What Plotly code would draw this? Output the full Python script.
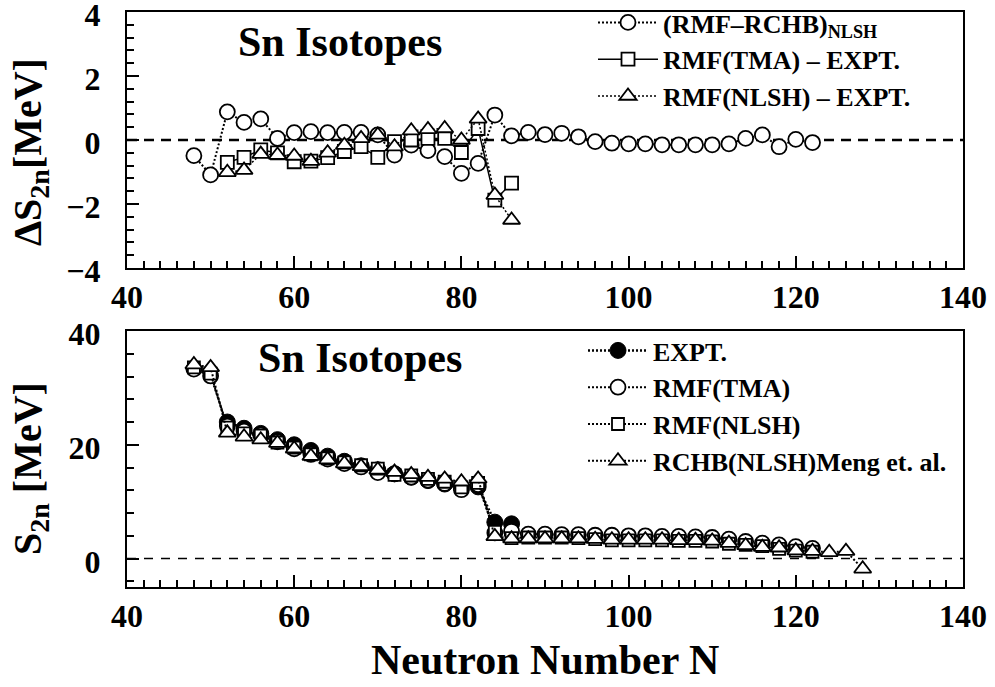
import plotly.graph_objects as go

# ---------------------------------------------------------------------------
# Data: Sn isotopes, two-neutron separation energies (MeV)
# ---------------------------------------------------------------------------
n_rmf = list(range(48, 124, 2))    # RMF calculations, N = 48 ... 122
n_rchb = list(range(48, 130, 2))   # RCHB (NLSH), N = 48 ... 128
n_expt = list(range(52, 88, 2))    # measured values, N = 52 ... 86

# Upper panel: differences
d_rmf_rchb = [-0.49, -1.09, 0.88, 0.55, 0.66, 0.05, 0.23, 0.26, 0.23, 0.24,
              0.24, 0.16, -0.47, -0.16, -0.33, -0.52, -1.04, -0.73, 0.78, 0.13,
              0.24, 0.17, 0.21, 0.10, -0.05, -0.10, -0.12, -0.12, -0.15, -0.15,
              -0.15, -0.15, -0.12, 0.05, 0.16, -0.21, 0.02, -0.08]
d_tma_expt = [-0.70, -0.54, -0.31, -0.40, -0.68, -0.66, -0.55, -0.36, -0.21,
              -0.54, -0.05, 0.00, 0.05, 0.05, -0.39, 0.36, -1.88, -1.35]
d_nlsh_expt = [-1.01, -0.94, -0.44, -0.47, -0.50, -0.66, -0.40, -0.16, 0.05,
               0.16, -0.21, 0.29, 0.33, 0.36, 0.00, 0.66, -1.72, -2.50]

# Lower panel: S2n
s2n_expt = [24.0, 22.9, 22.0, 20.9, 20.0, 19.0, 18.0, 17.1, 16.3, 15.6,
            14.9, 14.3, 13.7, 13.1, 12.5, 12.6, 6.4, 6.1]
s2n_tma = [33.3, 32.1, 23.3, 22.4, 21.7, 20.5, 19.3, 18.3, 17.5, 16.7,
           16.1, 15.1, 14.9, 14.3, 13.8, 13.2, 12.1, 13.0, 4.5, 4.8,
           4.3, 4.3, 4.2, 4.2, 4.1, 4.1, 4.0, 4.0, 3.9, 3.9,
           3.8, 3.7, 3.4, 3.0, 2.7, 2.4, 2.1, 1.8]
s2n_nlsh = [33.6, 32.5, 23.0, 22.0, 21.6, 20.4, 19.5, 18.3, 17.6, 16.9,
            16.4, 15.8, 14.7, 14.6, 14.0, 13.5, 12.5, 13.3, 4.7, 3.6,
            3.7, 3.7, 3.7, 3.6, 3.4, 3.2, 3.2, 3.2, 3.2, 3.1,
            3.1, 3.0, 2.6, 2.4, 2.2, 1.7, 1.4, 1.2]
s2n_rchb = [34.1, 33.6, 22.1, 21.4, 20.9, 20.3, 19.3, 18.0, 17.4, 16.7,
            16.2, 15.6, 15.2, 14.8, 14.3, 14.0, 13.5, 14.0, 3.9, 3.5,
            3.5, 3.5, 3.5, 3.5, 3.4, 3.3, 3.3, 3.3, 3.3, 3.2,
            3.2, 3.1, 2.7, 2.3, 2.0, 1.9, 1.4, 1.3, 1.1, 1.3, -1.8]

x_ticks = [40, 60, 80, 100, 120, 140]

# ---------------------------------------------------------------------------
# Styling
# ---------------------------------------------------------------------------
SERIF = "Liberation Serif, Times New Roman, serif"
W, H = 995, 687


def bold(size):
    return dict(family=SERIF, size=size, color="black", weight="bold")


def frame_axis(**kw):
    ax = dict(showline=True, linecolor="black", linewidth=2, mirror=True,
              ticks="inside", ticklen=12, tickwidth=2, tickcolor="black",
              showgrid=False, zeroline=False, tickfont=bold(32),
              automargin=False, ticklabeloverflow="allow")
    ax.update(kw)
    return ax


def minor(dtick, tick0=0):
    return dict(ticks="inside", ticklen=7, tickwidth=1.5, tickcolor="black",
                dtick=dtick, tick0=tick0, showgrid=False)


DOT = "2px,2px"


def open_marker(symbol, size):
    return dict(symbol=symbol, size=size, color="white",
                line=dict(color="black", width=1.8))


fig = go.Figure()

# Upper panel
fig.add_trace(go.Scatter(
    x=n_rmf, y=d_rmf_rchb, mode="lines+markers",
    name="(RMF\u2013RCHB)<sub>NLSH</sub>",
    line=dict(color="black", width=2, dash=DOT),
    marker=open_marker("circle", 15),
    xaxis="x", yaxis="y", legend="legend"))
fig.add_trace(go.Scatter(
    x=n_expt, y=d_tma_expt, mode="lines+markers",
    name="RMF(TMA) \u2013 EXPT.",
    line=dict(color="black", width=1.5),
    marker=open_marker("square", 13),
    xaxis="x", yaxis="y", legend="legend"))
fig.add_trace(go.Scatter(
    x=n_expt, y=d_nlsh_expt, mode="lines+markers",
    name="RMF(NLSH) \u2013 EXPT.",
    line=dict(color="black", width=1.5, dash=DOT),
    marker=open_marker("triangle-up", 15),
    xaxis="x", yaxis="y", legend="legend"))

# Lower panel
fig.add_trace(go.Scatter(
    x=n_expt, y=s2n_expt, mode="lines+markers", name="EXPT.",
    line=dict(color="black", width=2.5, dash=DOT),
    marker=dict(symbol="circle", size=16, color="black",
                line=dict(color="black", width=1)),
    xaxis="x2", yaxis="y2", legend="legend2"))
fig.add_trace(go.Scatter(
    x=n_rmf, y=s2n_tma, mode="lines+markers", name="RMF(TMA)",
    line=dict(color="black", width=2, dash=DOT),
    marker=open_marker("circle", 15),
    xaxis="x2", yaxis="y2", legend="legend2"))
fig.add_trace(go.Scatter(
    x=n_rmf, y=s2n_nlsh, mode="lines+markers", name="RMF(NLSH)",
    line=dict(color="black", width=2, dash=DOT),
    marker=open_marker("square", 12),
    xaxis="x2", yaxis="y2", legend="legend2"))
fig.add_trace(go.Scatter(
    x=n_rchb, y=s2n_rchb, mode="lines+markers",
    name="RCHB(NLSH)Meng et. al.",
    line=dict(color="black", width=2, dash=DOT),
    marker=open_marker("triangle-up", 15),
    xaxis="x2", yaxis="y2", legend="legend2"))

# Plot-area geometry in pixels (left, right, top, bottom)
L, R = 127, 963
TOP1, BOT1 = 12, 268
TOP2, BOT2 = 331, 587

xdom = [L / W, R / W]
fig.update_layout(
    width=W, height=H,
    margin=dict(l=0, r=0, t=0, b=0, pad=0, autoexpand=False),
    paper_bgcolor="white", plot_bgcolor="white",
    font=bold(26),
    showlegend=True,
    xaxis=frame_axis(domain=xdom, range=[40, 140], tickvals=x_ticks,
                     minor=minor(2), anchor="y", ticklabelstandoff=0),
    yaxis=frame_axis(domain=[1 - BOT1 / H, 1 - TOP1 / H], range=[-4, 4],
                     tick0=0, dtick=2, minor=minor(0.4), anchor="x",
                     ticklabelstandoff=18, ticklabelshift=3),
    xaxis2=frame_axis(domain=xdom, range=[40, 140], tickvals=x_ticks,
                      minor=minor(2), anchor="y2", ticklabelstandoff=0),
    yaxis2=frame_axis(domain=[1 - BOT2 / H, 1 - TOP2 / H], range=[-5, 40],
                      tick0=0, dtick=20, minor=minor(4), anchor="x2",
                      ticklabelstandoff=18, ticklabelshift=3),
    legend=dict(x=593 / W, y=1 + 1 / H, xanchor="left", yanchor="top",
                bgcolor="rgba(0,0,0,0)", borderwidth=0, font=bold(26),
                itemwidth=60, tracegroupgap=0),
    legend2=dict(x=583 / W, y=1 - 327 / H, xanchor="left", yanchor="top",
                 bgcolor="rgba(0,0,0,0)", borderwidth=0, font=bold(26),
                 itemwidth=60, tracegroupgap=0),
    shapes=[
        dict(type="line", xref="x domain", yref="y", x0=0, x1=1, y0=0, y1=0,
             line=dict(color="black", width=2.5, dash="10px,7px"),
             layer="below"),
        dict(type="line", xref="x2 domain", yref="y2", x0=0, x1=1, y0=0,
             y1=0, line=dict(color="black", width=1.5, dash="9px,8px"),
             layer="below"),
    ],
    annotations=[
        dict(text="Sn Isotopes", xref="paper", yref="paper",
             x=340 / W, y=1 - 42 / H, showarrow=False, font=bold(42),
             xanchor="center", yanchor="middle"),
        dict(text="Sn Isotopes", xref="paper", yref="paper",
             x=360 / W, y=1 - 358 / H, showarrow=False, font=bold(42),
             xanchor="center", yanchor="middle"),
        dict(text="\u0394S<sub>2n</sub>[MeV]", xref="paper", yref="paper",
             x=30 / W, y=1 - 152 / H, showarrow=False, font=bold(40),
             textangle=-90, xanchor="center", yanchor="middle"),
        dict(text="S<sub>2n</sub> [MeV]", xref="paper", yref="paper",
             x=30 / W, y=1 - 469 / H, showarrow=False, font=bold(40),
             textangle=-90, xanchor="center", yanchor="middle"),
        dict(text="Neutron Number N", xref="paper", yref="paper",
             x=545 / W, y=1 - 660 / H, showarrow=False, font=bold(42),
             xanchor="center", yanchor="middle", height=44),
    ],
)

fig.write_html("out.html")
